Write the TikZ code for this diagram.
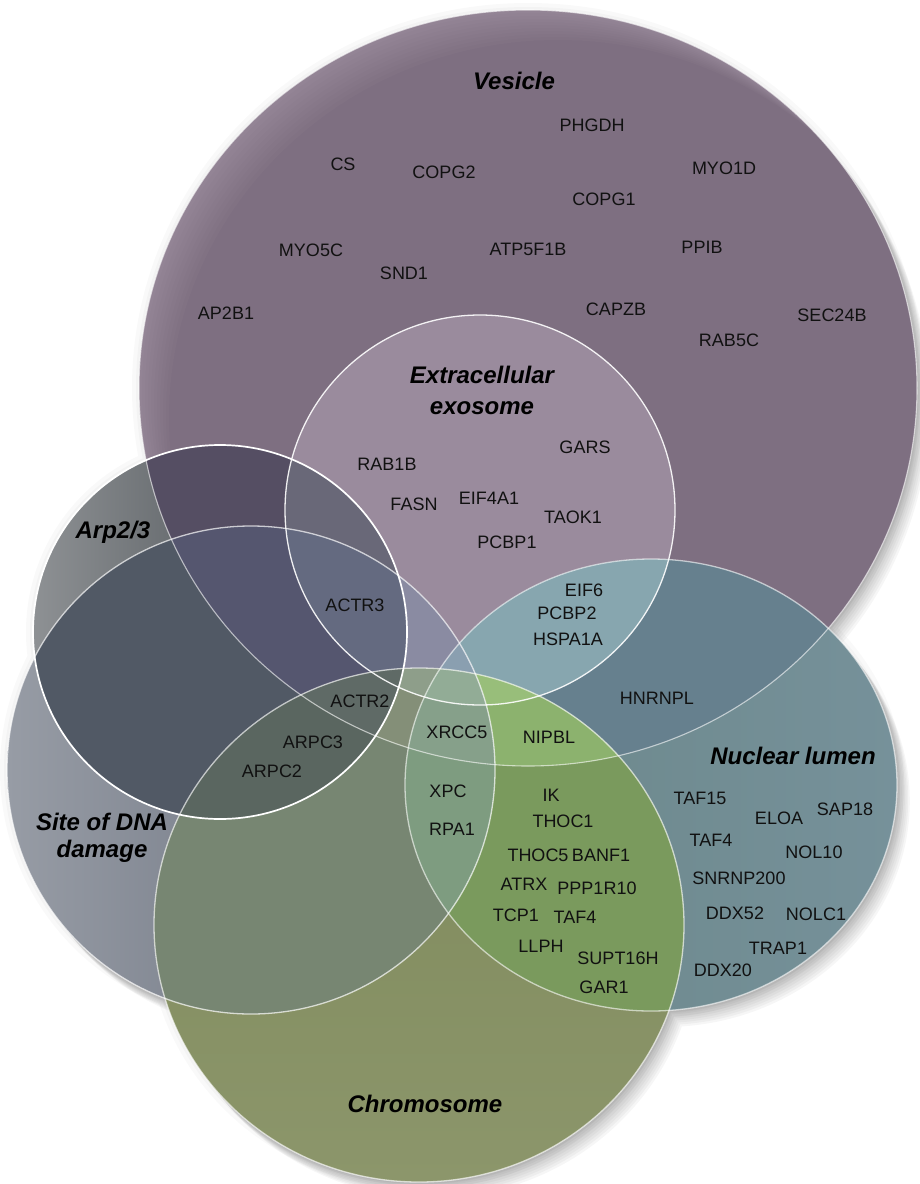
\documentclass[tikz,border=0pt]{standalone}
\usepackage{fontspec}
\setmainfont{Liberation Sans}
\definecolor{vesA}{HTML}{7E6F81}
\definecolor{vesG}{HTML}{C4B6C6}
\definecolor{exo}{HTML}{9A8B9D}
\definecolor{nucL}{HTML}{6A8688}
\definecolor{nucR}{HTML}{76919A}
\definecolor{nucV}{HTML}{66808E}
\definecolor{nucVE}{HTML}{87A6AF}
\definecolor{nucSVE}{HTML}{8A9FB0}
\definecolor{siteL}{HTML}{979CA5}
\definecolor{siteA}{HTML}{7B818D}
\definecolor{siteV}{HTML}{6E6C82}
\definecolor{siteVE}{HTML}{8A8BA2}
\definecolor{arpL}{HTML}{8E9194}
\definecolor{arpA}{HTML}{5F6468}
\definecolor{arpV}{HTML}{554E63}
\definecolor{arpVE}{HTML}{696878}
\definecolor{arpS}{HTML}{515965}
\definecolor{arpSV}{HTML}{55566F}
\definecolor{arpSVE}{HTML}{646A80}
\definecolor{chrT}{HTML}{7D8859}
\definecolor{chrB}{HTML}{8C966B}
\definecolor{chrS}{HTML}{778672}
\definecolor{chrSA}{HTML}{5A6660}
\definecolor{chrSAV}{HTML}{5F6A66}
\definecolor{chrSV}{HTML}{848F78}
\definecolor{chrSVE}{HTML}{8E9E8A}
\definecolor{chrN}{HTML}{7A9A5D}
\definecolor{chrNV}{HTML}{8CB26E}
\definecolor{chrNVE}{HTML}{98BE7A}
\definecolor{chrNS}{HTML}{7E9C80}
\definecolor{chrNSV}{HTML}{86A08A}
\definecolor{chrNSVE}{HTML}{92AC96}
\definecolor{txt}{HTML}{111111}
\tikzset{
  pV/.style={insert path={(528,388) ellipse [x radius=389pt, y radius=378pt]}},
  pE/.style={insert path={(480,510) circle [radius=195pt]}},
  pA/.style={insert path={(220,632) circle [radius=187pt]}},
  pS/.style={insert path={(251,770) circle [radius=244pt]}},
  pC/.style={insert path={(419,925) ellipse [x radius=265pt, y radius=257pt]}},
  pN/.style={insert path={(651,785) ellipse [x radius=246pt, y radius=226pt]}},
  gene/.style={font=\fontsize{18}{20}\selectfont, text=txt, inner sep=0pt},
  ttl/.style={font=\fontsize{24}{28}\selectfont\bfseries\itshape, text=black, inner sep=0pt, align=center},
  rim/.style={draw=white, line width=1.3pt, draw opacity=#1},
}
\begin{document}
\begin{tikzpicture}[x=1pt,y=-1pt]
\useasboundingbox (0,0) rectangle (919,1184);
% soft shadow / halo
\draw[black, opacity=0.025, line width=14pt, pV,pN,pC,pS,pA];
\draw[black, opacity=0.025, line width=6pt, pV,pN,pC,pS,pA];
\foreach \k in {2,4,...,16} {
  \begin{scope}[shift={(0.8*\k,\k)}]
    \fill[black,opacity=0.035,pV,pN,pC,pS,pA];
  \end{scope}
}
% base fills
\fill[vesA, pV];
\begin{scope}
  \clip[pV];
  \foreach \s in {3,6,...,30} {
    \fill[vesG, opacity=0.045, even odd rule]
      (528,388) ellipse [x radius=389pt, y radius=378pt]
      (528+\s,388+\s) ellipse [x radius=389pt, y radius=378pt];
  }
\end{scope}
\fill[exo, pE];
\shade[left color=nucL, right color=nucR, pN];
\shade[left color=siteL, right color=siteA, middle color=siteA, pS];
\shade[top color=chrT, bottom color=chrB, pC];
\shade[left color=arpL, right color=arpA, middle color=arpA, pA];
% pair overlaps
\begin{scope}\clip[pV]; \fill[nucV, pN]; \end{scope}
\begin{scope}\clip[pE]; \fill[nucVE, pN]; \end{scope}
\begin{scope}\clip[pV]; \fill[siteV, pS]; \end{scope}
\begin{scope}\clip[pE]; \fill[siteVE, pS]; \end{scope}
\begin{scope}\clip[pS]; \fill[nucSVE, pN]; \end{scope}
\begin{scope}\clip[pS]; \fill[chrS, pC]; \end{scope}
\begin{scope}\clip[pN]; \fill[chrN, pC]; \end{scope}
\begin{scope}\clip[pV]; \fill[chrNV, pC]; \end{scope}
\begin{scope}\clip[pV]; \fill[arpV, pA]; \end{scope}
\begin{scope}\clip[pS]; \fill[arpS, pA]; \end{scope}
% triple overlaps
\begin{scope}\clip[pE]; \fill[arpVE, pA]; \end{scope}
\begin{scope}\clip[pS]; \clip[pV]; \fill[arpSV, pA]; \end{scope}
\begin{scope}\clip[pS]; \clip[pC]; \fill[chrSA, pA]; \end{scope}
\begin{scope}\clip[pS]; \clip[pV]; \fill[chrSV, pC]; \end{scope}
\begin{scope}\clip[pN]; \clip[pV]; \fill[chrNV, pC]; \end{scope}
\begin{scope}\clip[pN]; \clip[pS]; \fill[chrNS, pC]; \end{scope}
\begin{scope}\clip[pN]; \clip[pS]; \clip[pE]; \fill[nucSVE, pV]; \end{scope}
% quadruple and more
\begin{scope}\clip[pA]; \clip[pS]; \fill[arpSVE, pE]; \end{scope}
\begin{scope}\clip[pC]; \clip[pS]; \fill[chrSVE, pE]; \end{scope}
\begin{scope}\clip[pC]; \clip[pN]; \fill[chrNVE, pE]; \end{scope}
\begin{scope}\clip[pC]; \clip[pN]; \clip[pS]; \fill[chrNSV, pV]; \end{scope}
\begin{scope}\clip[pC]; \clip[pN]; \clip[pS]; \fill[chrNSVE, pE]; \end{scope}
\begin{scope}\clip[pC]; \clip[pS]; \clip[pA]; \fill[chrSAV, pV]; \end{scope}
% outlines
\path[rim=0.6, line width=1.1pt, pV];
\path[rim=0.6, pN];
\path[rim=0.65, pC];
\path[rim=0.9, pE];
\path[rim=0.7, pS];
\path[rim=1, line width=1.7pt, pA];
% titles
\node[ttl] (tVes) at (514,81) {Vesicle};
\node[ttl, font=\fontsize{24}{31}\selectfont\bfseries\itshape] (tExo) at (482,390) {Extracellular\\exosome};
\node[ttl] (tArp) at (113,532) {Arp2/3};
\node[ttl, font=\fontsize{24}{27}\selectfont\bfseries\itshape] (tSite) at (102,838) {Site of DNA\\damage};
\node[ttl] (tNuc) at (793,756) {Nuclear lumen};
\node[ttl] (tChr) at (425,1104) {Chromosome};
% vesicle genes
\node[gene] (g01) at (592,125) {PHGDH};
\node[gene] (g02) at (343,164) {CS};
\node[gene] (g03) at (444,172) {COPG2};
\node[gene] (g04) at (724,168) {MYO1D};
\node[gene] (g05) at (604,199) {COPG1};
\node[gene] (g06) at (311,250) {MYO5C};
\node[gene] (g07) at (528,249) {ATP5F1B};
\node[gene] (g08) at (702,247) {PPIB};
\node[gene] (g09) at (404,273) {SND1};
\node[gene] (g10) at (226,313) {AP2B1};
\node[gene] (g11) at (616,309) {CAPZB};
\node[gene] (g12) at (832,315) {SEC24B};
\node[gene] (g13) at (729,340) {RAB5C};
% exosome genes
\node[gene] (g14) at (585,447) {GARS};
\node[gene] (g15) at (387,464) {RAB1B};
\node[gene] (g16) at (414,504) {FASN};
\node[gene] (g17) at (489,498) {EIF4A1};
\node[gene] (g18) at (573,517) {TAOK1};
\node[gene] (g19) at (507,542) {PCBP1};
% overlaps
\node[gene] (g20) at (355,605) {ACTR3};
\node[gene] (g21) at (584,590) {EIF6};
\node[gene] (g22) at (567,613) {PCBP2};
\node[gene] (g23) at (568,639) {HSPA1A};
\node[gene] (g24) at (360,701) {ACTR2};
\node[gene] (g25) at (657,698) {HNRNPL};
\node[gene] (g26) at (457,732) {XRCC5};
\node[gene] (g27) at (549,737) {NIPBL};
\node[gene] (g28) at (313,742) {ARPC3};
\node[gene] (g29) at (272,771) {ARPC2};
\node[gene] (g30) at (448,791) {XPC};
\node[gene] (g31) at (452,829) {RPA1};
% chromosome & nuclear
\node[gene] (g32) at (551,795) {IK};
\node[gene] (g33) at (563,821) {THOC1};
\node[gene] (g34) at (538,855) {THOC5};
\node[gene] (g35) at (601,855) {BANF1};
\node[gene] (g36) at (524,884) {ATRX};
\node[gene] (g37) at (597,888) {PPP1R10};
\node[gene] (g38) at (516,915) {TCP1};
\node[gene] (g39) at (575,917) {TAF4};
\node[gene] (g40) at (541,946) {LLPH};
\node[gene] (g41) at (618,958) {SUPT16H};
\node[gene] (g42) at (604,987) {GAR1};
% nuclear genes
\node[gene] (g43) at (700,798) {TAF15};
\node[gene] (g44) at (779,818) {ELOA};
\node[gene] (g45) at (845,809) {SAP18};
\node[gene] (g46) at (711,840) {TAF4};
\node[gene] (g47) at (814,852) {NOL10};
\node[gene] (g48) at (739,878) {SNRNP200};
\node[gene] (g49) at (735,913) {DDX52};
\node[gene] (g50) at (816,914) {NOLC1};
\node[gene] (g51) at (778,948) {TRAP1};
\node[gene] (g52) at (723,970) {DDX20};
\end{tikzpicture}
\end{document}
